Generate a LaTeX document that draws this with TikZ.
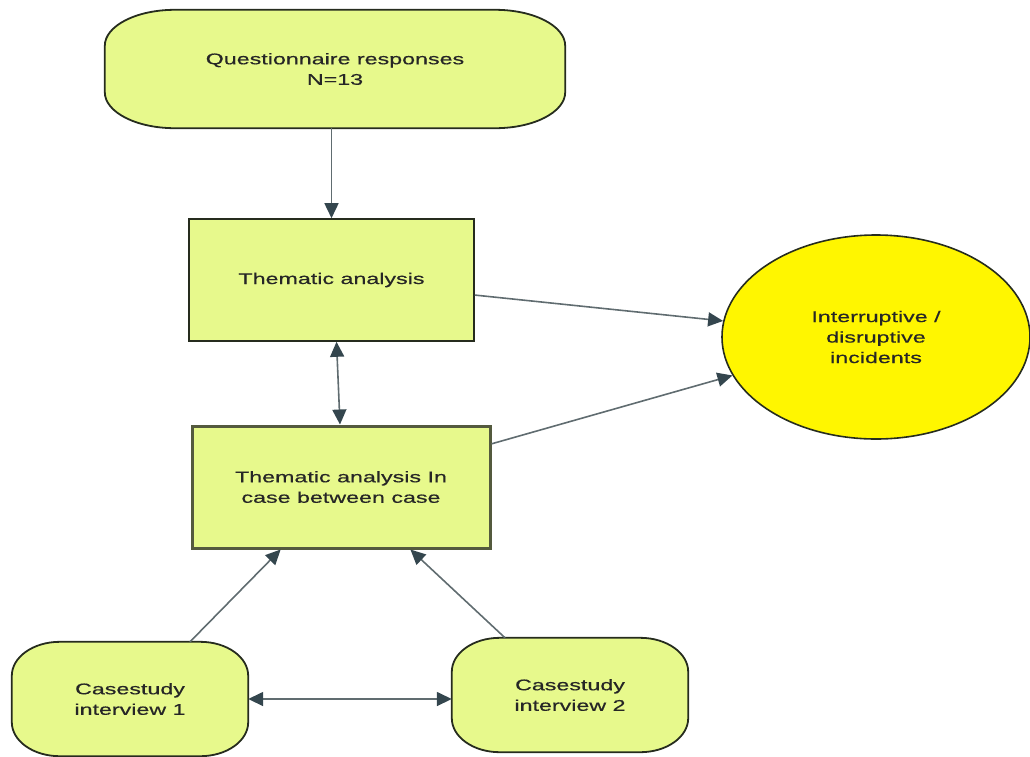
\documentclass[tikz,border=0pt]{standalone}
\usepackage{xcolor}
\usepackage{fontspec}
\setmainfont{Liberation Sans}[FakeStretch=1.5, FakeBold=0.5]
\usetikzlibrary{arrows.meta, calc}
\usetikzlibrary{positioning, shapes.geometric, backgrounds}
\definecolor{boxfill}{RGB}{231,249,140}
\definecolor{incfill}{RGB}{255,246,0}
\definecolor{lineg}{RGB}{96,108,112}
\definecolor{tipdark}{RGB}{52,70,78}
\definecolor{edgedark}{RGB}{38,44,30}
\definecolor{edgeolive}{RGB}{84,90,62}
% frame with elliptical corners round a node: name, x radius, y radius
\newcommand{\ovalframe}[3]{%
  \draw[roundbox] ([xshift=#2]#1.north west) -- ([xshift=-#2]#1.north east)
     arc[start angle=90, end angle=0, x radius=#2, y radius=#3]
     -- ([yshift=#3]#1.south east)
     arc[start angle=0, end angle=-90, x radius=#2, y radius=#3]
     -- ([xshift=#2]#1.south west)
     arc[start angle=-90, end angle=-180, x radius=#2, y radius=#3]
     -- ([yshift=-#3]#1.north west)
     arc[start angle=180, end angle=90, x radius=#2, y radius=#3] -- cycle;}

\begin{document}
\begin{tikzpicture}[
    x=1pt, y=-1pt,
    >={Triangle[length=15pt, width=14pt, color=tipdark]},
    every node/.style={font=\fontsize{15.5}{20.5}\selectfont, text=black!85, align=center, inner sep=0pt},
    flow/.style={->, lineg, line width=1.6pt},
    roundbox/.style={draw=edgedark, fill=boxfill, line width=1.8pt},
    anbox/.style={draw=edgedark, fill=boxfill, line width=1.6pt, rectangle},
]
\useasboundingbox (0,0) rectangle (1030,756);
% input: the questionnaire
\node[minimum width=460pt, minimum height=118pt]
   (qresp) at (335,69) {Questionnaire responses\\N=13};
% the two analysis steps
\node[anbox, minimum width=285pt, minimum height=122pt]
   (thema) at (331.5,280) {Thematic analysis};
\node[anbox, draw=edgeolive, line width=3pt, minimum width=298pt, minimum height=122pt]
   (thcase) at (341,487) {Thematic analysis In\\case between case};
% outcome
\node[ellipse, draw=edgedark, fill=incfill, line width=1.6pt,
      minimum width=308pt, minimum height=204pt]
   (incid) at (876,337) {Interruptive /\\disruptive\\incidents};
% the two case studies
\node[minimum width=236pt, minimum height=114pt]
   (csone) at (130,699) {Casestudy\\interview 1};
\node[minimum width=236pt, minimum height=114pt]
   (cstwo) at (570,695) {Casestudy\\interview 2};
\begin{scope}[on background layer]
\ovalframe{qresp}{70pt}{36pt}
\ovalframe{csone}{48pt}{34pt}
\ovalframe{cstwo}{48pt}{34pt}
\end{scope}

\draw[flow] (thema.north |- qresp.south) -- (thema.north);
\draw[flow, <->] ([xshift=5pt]thema.south) -- ([xshift=-1pt]thcase.north);
\draw[flow] (thema.-6) -- (incid.174);
\draw[flow] (thcase.16) -- (incid.195);
\draw[flow] ([xshift=60pt]csone.north) -- (thcase.-134);
\draw[flow] ([xshift=-65pt]cstwo.north) -- (thcase.-42);
\draw[flow, <->] (csone.east) -- (csone.east -| cstwo.west);
\end{tikzpicture}
\end{document}
